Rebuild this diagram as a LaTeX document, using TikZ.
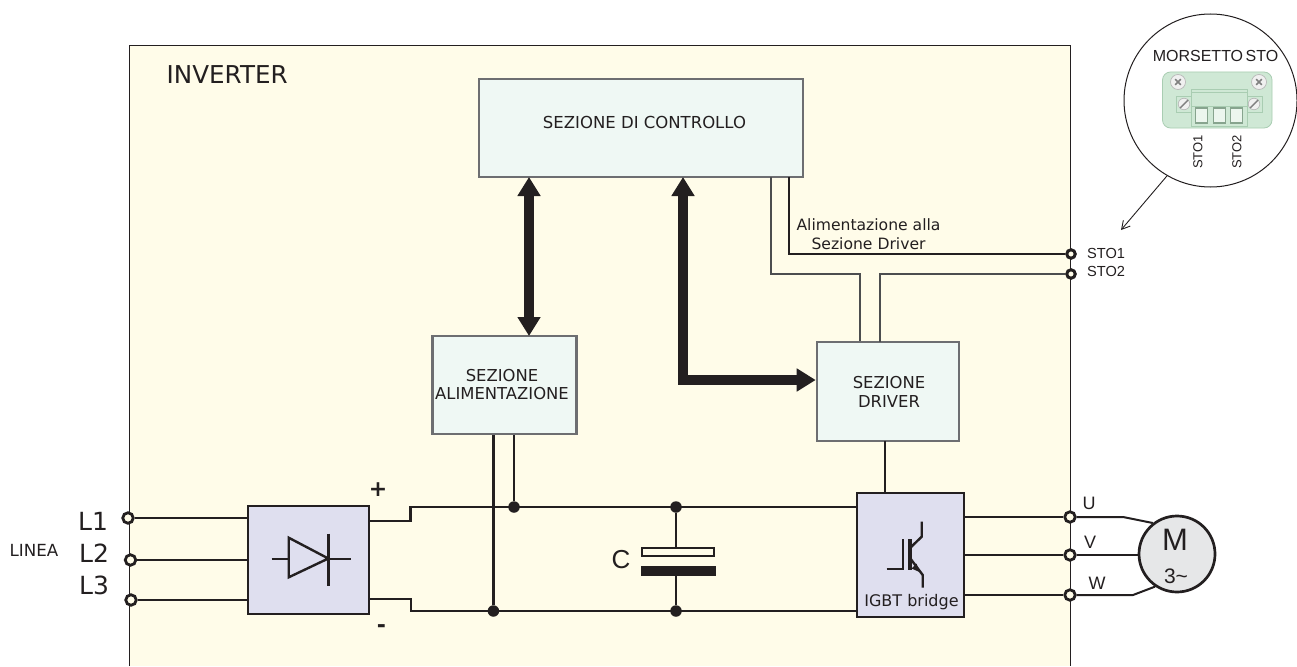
\documentclass[tikz,border=0pt]{standalone}
\usepackage{fontspec}
\setmainfont{DejaVu Sans}
\newfontfamily\arial{Liberation Sans}
\usetikzlibrary{arrows.meta,calc}
\definecolor{cream}{HTML}{FFFCE9}
\definecolor{ink}{HTML}{231F20}
\definecolor{boxfill}{HTML}{EFF8F4}
\definecolor{boxedge}{HTML}{6D6E71}
\definecolor{blockfill}{HTML}{DFDFEF}
\definecolor{motorfill}{HTML}{E6E7E8}
\definecolor{board}{HTML}{CFE8D5}
\definecolor{boardedge}{HTML}{A9CDB2}
\tikzset{
  x=1pt,y=-1pt,
  ctlbox/.style={draw=boxedge,fill=boxfill,line width=2.6pt,inner sep=0pt},
  block/.style={draw=ink,fill=blockfill,line width=2.8pt,inner sep=0pt},
  wire/.style={draw=ink,line width=2.7pt},
  thinwire/.style={draw=boxedge!70!black,line width=1.5pt},
  blackwire/.style={draw=ink,line width=1.1pt},
  bus/.style={draw=ink,line width=10pt},
  term/.style={circle,draw=ink,fill=cream,line width=2.8pt,minimum size=10.5pt,inner sep=0pt},
  smallterm/.style={circle,draw=ink,fill=cream,line width=3pt,minimum size=8.5pt,inner sep=0pt},
  junction/.style={circle,fill=ink,minimum size=11.5pt,inner sep=0pt},
  lab/.style={inner sep=0pt,text=ink},
  screw/.style={circle,draw=gray!55,fill=gray!12,line width=.7pt,inner sep=0pt},
  pin/.style={draw=boardedge!80!black,fill=board!40!white,line width=1.6pt},
  sym/.style={draw=ink,line width=2.4pt},
}
\begin{document}
\begin{tikzpicture}
\useasboundingbox (0,0) rectangle (1297,666);
% inverter panel
\fill[cream] (129.5,46) rectangle (1070.5,666);
\draw[ink,line width=1pt] (129.5,666) -- (129.5,46) -- (1070.5,46) -- (1070.5,666);
\node[lab,anchor=west,font=\fontsize{24.6}{28}\selectfont] (inv) at (166.5,75) {INVERTER};

% boxes
\node[ctlbox,minimum width=324pt,minimum height=98pt] (ctrl) at (641,128) {};
\node[lab,font=\fontsize{16.5}{19}\selectfont] (ctrltxt) at (644.5,122.5) {SEZIONE DI CONTROLLO};
\node[ctlbox,minimum width=144pt,minimum height=98pt] (alim) at (504.5,385) {};
\node[lab,align=center,font=\fontsize{16.4}{18.5}\selectfont] (alimtxt) at (502,384.5) {SEZIONE\\ALIMENTAZIONE};
\node[ctlbox,minimum width=142pt,minimum height=99pt] (drv) at (888,391.5) {};
\node[lab,align=center,font=\fontsize{16.4}{19}\selectfont] (drvtxt) at (889,392) {SEZIONE\\DRIVER};
\node[block,minimum width=121pt,minimum height=108pt] (rect) at (308.5,560) {};
\node[block,minimum width=107pt,minimum height=124pt] (igbt) at (910.5,555) {};
\node[circle,draw=ink,fill=motorfill,line width=2.7pt,minimum size=76pt,inner sep=0pt] (mot) at (1177,554) {};

% input terminals and lines
\node[term] (L1) at (128,518) {};
\node[term] (L2) at (130.5,560) {};
\node[term] (L3) at (131,600) {};
\draw[wire] (L1) -- (L1 -| rect.west);
\draw[wire] (L2) -- (L2 -| rect.west);
\draw[wire] (L3) -- (L3 -| rect.west);
\node[lab,font=\fontsize{25}{30}\selectfont] (l1t) at (93,521) {L1};
\node[lab,font=\fontsize{25}{30}\selectfont] (l2t) at (94,553) {L2};
\node[lab,font=\fontsize{25}{30}\selectfont] (l3t) at (94,585) {L3};
\node[lab,font=\fontsize{16.7}{19}\selectfont] (linea) at (34,550) {LINEA};

% DC bus
\coordinate (pa) at (369,521); \coordinate (pb) at (410.5,521); \coordinate (pc) at (410.5,507);
\coordinate (ma) at (369,599); \coordinate (mb) at (411,599); \coordinate (mc) at (411,611);
\draw[wire] (pa) -- (pb) -- (pc) -- (pc -| igbt.west);
\draw[wire] (ma) -- (mb) -- (mc) -- (mc -| igbt.west);
\node[lab,font=\bfseries\fontsize{22}{26}\selectfont] (plus) at (378,490) {+};
\node[lab,font=\bfseries\fontsize{22}{26}\selectfont] (minus) at (381.5,629) {-};
\node[junction] (jp) at (514,507) {};
\node[junction] (jm) at (493.4,611) {};
\node[junction] (cp) at (676,507) {};
\node[junction] (cm) at (676,611) {};
\draw[wire] (jp) -- (jp |- alim.south);
\draw[wire] (jm) -- (jm |- alim.south);

% capacitor
\node[draw=ink,fill=cream,line width=2.4pt,minimum width=72pt,minimum height=7.6pt,inner sep=0pt] (plate1) at (678,552) {};
\node[fill=ink,minimum width=75pt,minimum height=10.5pt,inner sep=0pt] (plate2) at (678,571) {};
\draw[wire] (cp) -- (cp |- plate1.north);
\draw[wire] (cm) -- (cm |- plate2.south);
\node[lab,font=\arial\fontsize{26}{30}\selectfont] (clab) at (621,560) {C};

% thick buses
\draw[bus,{Triangle[length=19pt,width=22pt]}-{Triangle[length=19pt,width=22pt]}] (529,177) -- (529,336);
\coordinate (bend) at (683,380);
\draw[bus,{Triangle[length=19pt,width=22pt]}-{Triangle[length=19pt,width=22pt]},line join=miter] (683,177) -- (bend) -- (bend -| drv.west);

% thin lines
\coordinate (s1a) at (771,177); \coordinate (s1b) at (771,274); \coordinate (s1c) at (860,274);
\coordinate (s2a) at (789,177); \coordinate (s2b) at (789,254);
\coordinate (s3a) at (880,342); \coordinate (s3b) at (880,274);
\node[smallterm] (sto1) at (1071,254) {};
\node[smallterm] (sto2) at (1071,274) {};
\draw[thinwire] (s1a) -- (s1b) -- (s1c) -- (s1c |- drv.north);
\draw[thinwire] (s3a) -- (s3b) -- (sto2.west);
\draw[blackwire] (s2a) -- (s2b) -- (sto1.west);
\node[lab,align=center,font=\fontsize{15.6}{19}\selectfont] (altxt) at (868.5,234.5) {Alimentazione alla\\Sezione Driver};
\node[lab,anchor=west,font=\arial\fontsize{14.6}{16}\selectfont] (sto1t) at (1087,253) {STO1};
\node[lab,anchor=west,font=\arial\fontsize{14.6}{16}\selectfont] (sto2t) at (1087,271.5) {STO2};

% driver to IGBT
\coordinate (d) at (885,441);
\draw[wire] (d) -- (d |- igbt.north);

% outputs
\node[term] (U) at (1070,517) {};
\node[term] (V) at (1070,555) {};
\node[term] (W) at (1070,595) {};
\draw[wire] (U -| igbt.east) -- (U);
\draw[wire] (V -| igbt.east) -- (V);
\draw[wire] (W -| igbt.east) -- (W);
\coordinate (um) at (1123,517); \coordinate (wm) at (1133,595);
\draw[draw=ink,line width=2pt] (U) -- (um) -- (mot.128);
\draw[draw=ink,line width=2.2pt] (V) -- (V -| mot.west);
\draw[draw=ink,line width=2pt] (W) -- (wm) -- (mot.236);
\node[lab,font=\arial\fontsize{18}{20}\selectfont] (ut) at (1089,503) {U};
\node[lab,font=\arial\fontsize{18}{20}\selectfont] (vt) at (1090,542) {V};
\node[lab,font=\arial\fontsize{18}{20}\selectfont] (wt) at (1097,583) {W};
\node[lab,font=\arial\fontsize{31}{34}\selectfont] (mtxt) at (1175,540) {M};
\node[lab,font=\arial\fontsize{21}{24}\selectfont] (mtxt2) at (1176,576) {3\textasciitilde};

% diode symbol
\draw[sym,line join=miter] (288.7,537.7) -- (288.7,577.3) -- (328.3,558.5) -- cycle;
\draw[sym] (271.5,559) -- (288.7,559);
\draw[sym] (328.3,559) -- (350.5,559);
\draw[sym] (328.3,533.5) -- (328.3,585.5);

% IGBT symbol
\draw[sym,line join=miter] (886.7,569) -- (902.7,569) -- (902.7,539.3);
\draw[draw=ink,line width=3.4pt] (910,539.3) -- (910,570);
\draw[sym] (910,548) -- (921.7,536.7) -- (921.7,521.7);
\draw[sym] (910,558) -- (922.7,575) -- (922.7,587.5);
\fill[ink] (919.5,572) -- (911.5,568.5) -- (916.5,563.5) -- cycle;
\node[lab,font=\fontsize{16}{18}\selectfont] (igt) at (911.5,602) {IGBT bridge};

% detail circle
\node[circle,draw=ink,fill=white,line width=1pt,minimum size=173pt,inner sep=0pt] (zoomc) at (1210.5,100.5) {};
\node[lab,font=\arial\fontsize{16}{18}\selectfont] (mors) at (1215.5,55.5) {MORSETTO\hspace{-2pt} STO};
\draw[rounded corners=8pt,fill=board,draw=boardedge,line width=.8pt] (1162.5,72) rectangle (1272,128);
\draw[draw=boardedge,line width=.8pt] (1176,96) rectangle (1192,112);
\draw[draw=boardedge,line width=.8pt] (1246,96) rectangle (1262,112);
\node[screw,minimum size=15pt] (s1) at (1178,82) {};
\node[screw,minimum size=15pt] (s2) at (1259,82) {};
\node[screw,minimum size=11.5pt] (s3) at (1184,104) {};
\node[screw,minimum size=11.5pt] (s4) at (1254,104) {};
\draw[gray,line width=1.6pt] (s1.center) ++(-2.8,-2.8) -- ++(5.6,5.6) ++(-5.6,0) -- ++(5.6,-5.6);
\draw[gray,line width=1.6pt] (s2.center) ++(-2.8,-2.8) -- ++(5.6,5.6) ++(-5.6,0) -- ++(5.6,-5.6);
\draw[gray,line width=1.4pt] (s3.center) ++(-4,4) -- ++(8,-8);
\draw[gray,line width=1.4pt] (s4.center) ++(-4,4) -- ++(8,-8);
\draw[draw=boardedge,fill=board,line width=.8pt] (1191,89) rectangle (1247,126);
\draw[draw=boardedge,line width=.8pt] (1191,92) -- (1247,92);
\draw[draw=boardedge,line width=.8pt] (1191,106) -- (1247,106);
\draw[pin] (1195.5,108) rectangle (1207.5,123);
\draw[pin] (1213.5,108) rectangle (1225.5,123);
\draw[pin] (1230.5,108) rectangle (1242.5,123);
\node[lab,rotate=90,font=\arial\fontsize{13}{15}\selectfont] (p1) at (1198,152) {STO1};
\node[lab,rotate=90,font=\arial\fontsize{13}{15}\selectfont] (p2) at (1237,152) {STO2};
\coordinate (arrtip) at (1121,230);
\draw[draw=ink,line width=.9pt,-{Straight Barb[length=8pt,width=9pt]}] (zoomc.240) -- (arrtip);
\end{tikzpicture}
\end{document}
